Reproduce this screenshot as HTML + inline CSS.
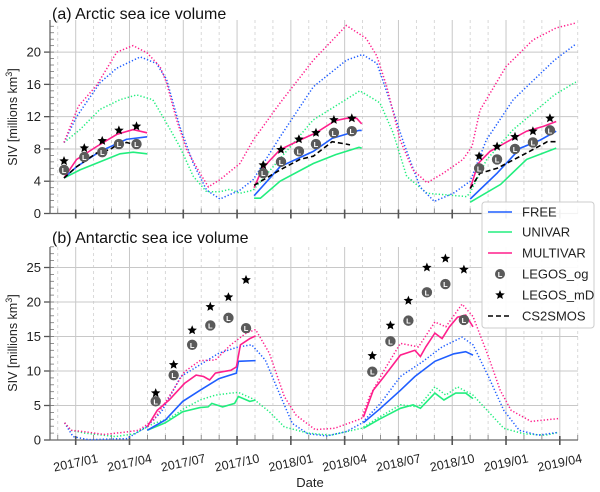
<!DOCTYPE html>
<html><head><meta charset="utf-8">
<style>
html,body{margin:0;padding:0;background:#fff;}
svg{display:block;font-family:"Liberation Sans","DejaVu Sans",sans-serif;}
</style></head>
<body>
<svg id="chart" width="600" height="492" viewBox="0 0 600 492"></svg>
<script>
// ---------- DATA (x in months since 2017-01, y in millions km3) ----------
// Arctic (panel a)
const arcFreeDot = [[-0.65,8.8],[0.05,12],[1.35,16.2],[2.29,18],[3.6,19.4],[4.5,18.6],[5.07,16.6],[5.8,10.8],[6.56,6.2],[7.3,2.9],[8.05,1.8],[9.16,2.9],[9.9,4.2],[11.4,9.5],[13.25,15.7],[15.1,19],[16.0,19.7],[16.8,18.6],[17.5,14.1],[18.3,8.7],[19.2,3.3],[20.0,1.5],[21.06,2.5],[22.0,4.0],[22.9,9.1],[24.4,14.1],[26.7,19],[27.9,21]];
const arcUniDot = [[-0.65,8.8],[0.24,10.4],[1.35,12.9],[2.47,14.1],[3.4,14.7],[4.3,14.1],[5.07,11.2],[5.8,8.3],[6.56,4.6],[7.3,2.7],[8.05,2.7],[8.6,3.0],[9.16,2.5],[9.9,2.9],[11.4,6.8],[13.25,11.6],[15.85,15.2],[16.97,13.7],[17.7,10],[18.46,4.6],[19.6,2.5],[20.7,2.3],[21.8,2.1],[22.0,2.6],[22.9,6.6],[24.4,10.4],[26.7,14.7],[27.9,16.3]];
const arcMultiDot = [[-0.65,8.8],[0.15,13.3],[1.17,15.9],[2.29,20],[3.2,20.8],[3.98,19.9],[4.7,18.2],[5.07,16.2],[5.63,11.6],[6.19,7.9],[6.93,5],[7.4,3.3],[8.05,4.2],[9.16,6.2],[9.9,9.1],[11.4,13.7],[13.25,19],[15.1,23.3],[16.2,21.7],[16.8,19.5],[17.35,15.7],[18.1,9.1],[18.8,5.4],[19.6,3.8],[20.5,5],[21.6,6.7],[22.1,8.3],[22.55,12.8],[24,18.2],[25.5,21.5],[26.8,23],[27.9,23.6]];
const arcFree = [[[-0.65,4.4],[0.05,5.8],[1.35,7.7],[2.84,9.2],[3.98,9.5]],
                 [[9.95,2.2],[11.4,5.8],[13.25,7.7],[14.3,9.3],[15.8,10.3],[15.95,10.3]],
                 [[22.0,1.8],[23.5,5.0],[24.8,8.1],[25.9,9.1],[26.8,10.2]]];
const arcUni = [[[-0.65,4.4],[0.24,5.4],[1.35,6.4],[2.47,7.4],[3.2,7.6],[3.98,7.4]],
                [[9.95,1.9],[10.3,1.9],[11.4,4.0],[13.25,6.2],[14.5,7.3],[15.8,8.2],[15.95,8.1]],
                [[22.0,1.4],[23.7,3.6],[25.15,6.7],[26.8,8.1]]];
const arcMulti = [[[-0.65,4.4],[0.05,6.7],[1.17,8.3],[2.29,9.8],[3.2,10.4],[3.98,10.0]],
                  [[9.95,3.2],[10.4,5.5],[10.8,6.5],[11.4,7.9],[12.5,9.1],[13.4,10],[14.46,11.5],[15.1,11.8],[15.67,11.8],[15.95,11.1]],
                  [[22.0,3.1],[22.45,6.2],[23.1,7.7],[24.4,9.3],[25.15,10.2],[26.1,10.8],[26.8,11.4]]];
const arcCs2 = [[[-0.65,4.4],[0.05,5.8],[1.17,7.5],[1.9,7.9],[2.29,8.5],[2.84,8.8],[3.4,8.5]],
                [[9.95,3.5],[11.4,5.4],[12.5,6.7],[13.25,7.1],[14.3,8.9],[15.1,8.6],[15.3,8.5]],
                [[22.0,3.1],[22.55,5.0],[23.5,5.6],[25.15,7.5],[26.3,8.9],[26.8,8.9]]];
const arcOg = [[-0.65,5.4],[0.48,7.0],[1.48,7.6],[2.41,8.6],[3.39,8.6],[10.46,5.0],[11.45,6.4],[12.45,7.7],[13.4,8.6],[14.4,10],[15.4,10.2],[22.5,5.6],[23.5,6.7],[24.5,8.0],[25.5,8.8],[26.45,10.3]];
const arcMd = [[-0.65,6.5],[0.48,8.1],[1.48,9.0],[2.41,10.3],[3.39,10.8],[10.46,6.0],[11.45,7.9],[12.45,9.2],[13.4,10.0],[14.4,11.6],[15.4,11.8],[22.5,7.1],[23.5,8.3],[24.5,9.5],[25.5,10.2],[26.45,11.8]];
// Antarctic (panel b)
const antFreeDot = [[-0.61,2.5],[-0.15,0.5],[0.7,0.05],[2.82,0.2],[3.9,1.9],[4.73,4.1],[5.8,9.2],[6.85,10.9],[7.9,12.6],[8.97,13.5],[9.7,13.8],[10.45,11.6],[11.3,6.3],[11.94,2.4],[12.8,0.9],[13.85,0.6],[14.9,1.2],[15.75,2.4],[16.8,5.3],[17.9,9.2],[19.15,11.4],[20.2,13.5],[21.3,14.9],[21.9,13.8],[22.75,9.2],[23.6,4.3],[24.45,1.4],[25.5,0.7],[26.6,1.1]];
const antUniDot = [[-0.61,2.5],[-0.25,1.4],[0.49,1.0],[2.18,0.5],[3.24,0.9],[4.3,2.4],[5.15,3.1],[6.0,4.6],[6.85,5.8],[7.7,6.5],[8.55,6.8],[8.97,6.9],[9.82,5.9],[10.67,4.1],[11.5,1.9],[12.8,1.0],[14.06,0.7],[15.75,1.7],[16.8,3.4],[17.9,5.1],[18.9,4.8],[19.8,7.7],[20.4,6.5],[21.05,7.7],[21.9,6.5],[22.75,4.1],[23.6,1.7],[24.7,0.9],[25.9,0.7],[26.6,1.1]];
const antMultiDot = [[-0.61,2.5],[-0.25,1.4],[0.49,1.2],[1.55,0.8],[2.6,1.1],[3.46,1.4],[4.3,2.9],[5.15,6.3],[6.0,9.9],[6.85,11.5],[7.7,11.6],[8.55,13.8],[9.4,15.5],[9.92,16.0],[10.67,12.6],[11.5,6.3],[12.15,3.6],[13.2,1.5],[14.27,1.7],[15.75,3.1],[16.2,6.3],[17.0,10.1],[17.9,14.0],[18.9,13.5],[19.8,17.1],[20.4,16.4],[21.3,19.7],[21.9,17.9],[22.75,12.1],[23.4,7.2],[24.0,4.3],[25.1,2.7],[26.6,3.1]];
const antFree = [[[3.94,1.4],[4.94,2.9],[5.9,5.6],[6.85,7.2],[7.9,8.9],[8.86,9.7],[8.97,11.4],[9.92,11.5]],
                 [[15.86,2.5],[16.8,4.6],[17.9,7.2],[18.7,9.2],[19.8,11.4],[20.85,12.5],[21.5,12.8],[21.9,12.3]]];
const antUni = [[[3.94,1.4],[4.94,2.5],[5.9,4.1],[6.85,4.7],[7.3,4.8],[7.5,5.3],[8.1,4.8],[8.76,5.3],[8.97,6.3],[9.6,5.6],[9.92,5.8]],
                [[15.86,1.7],[16.8,3.1],[17.9,4.6],[18.6,5.1],[19.0,4.6],[19.8,6.8],[20.3,5.8],[20.95,6.8],[21.5,6.8],[21.9,6.0]]];
const antMulti = [[[3.94,1.9],[4.5,4.3],[5.15,5.8],[6.0,8.2],[6.64,9.4],[7.05,9.2],[7.38,8.7],[7.7,9.7],[8.1,9.9],[8.55,10.1],[8.86,10.6],[9.08,13.8],[9.6,14.7],[9.92,15.1]],
                 [[15.86,3.3],[16.4,7.2],[17.0,9.2],[17.9,12.3],[18.7,13.0],[19.0,12.1],[19.3,13.5],[19.8,15.5],[20.2,14.7],[20.6,16.4],[21.05,17.8],[21.5,18.1],[21.9,16.4]]];
const antOg = [[4.41,5.6],[5.4,9.4],[6.42,13.8],[7.42,16.6],[8.42,17.7],[9.39,16.2],[16.35,9.9],[17.35,14.3],[18.34,17.3],[19.36,21.4],[20.38,22.6],[21.4,17.4]];
const antMd = [[4.41,6.8],[5.4,10.9],[6.42,15.9],[7.42,19.3],[8.42,20.7],[9.39,23.2],[16.35,12.2],[17.35,16.6],[18.34,20.2],[19.36,25.0],[20.38,26.3],[21.4,24.7]];
// ticks
const xTickLabels = ["2017/01","2017/04","2017/07","2017/10","2018/01","2018/04","2018/07","2018/10","2019/01","2019/04"];
const arcYTicks = [0,4,8,12,16,20];
const antYTicks = [0,5,10,15,20,25];

// ---------- LAYOUT ----------
const C = {free:"#1f5eff", uni:"#22ee7e", multi:"#ff1f8c"};
const svg = document.getElementById('chart');
const NS = "http://www.w3.org/2000/svg";
function mk(tag, attrs, parent){ const e=document.createElementNS(NS,tag); for(const k in attrs) e.setAttribute(k,attrs[k]); (parent||svg).appendChild(e); return e; }
const L=50, R=578;
const xTick = m => 75.7 + m*17.93;
const panels = [
  {name:"arctic", y0:213.5, ppu:8.07, top:20, ymax:24, yt:arcYTicks, minor:0.8, xd: m=>75.7+m*17.93, ylabY:117, title:"(a) Arctic sea ice volume", titleY:19, labels:false},
  {name:"antarctic", y0:440, ppu:6.9, top:247, ymax:28, yt:antYTicks, minor:1, xd: m=>75.7+m*18.14, ylabY:343, title:"(b) Antarctic sea ice volume", titleY:243, labels:true}
];
function pathFrom(pts, P){ return pts.map((p,i)=>(i?'L':'M')+P.xd(p[0]).toFixed(1)+','+(P.y0-p[1]*P.ppu).toFixed(1)).join(''); }

panels.forEach(P=>{
  const g = mk('g',{});
  
  
  const yv = v => P.y0 - v*P.ppu;
  for(let m=-2; m<=28; m++){
    const x = xTick(m); if(x<L+2||x>R) continue;
    const q = (m%3===0);
    const gl = mk('line',{x1:x,x2:x,y1:P.top,y2:P.y0,stroke:q?"#c8c8c8":"#cfcfcf","stroke-width":q?1:0.8,"stroke-dasharray":q?"":"3 3"},g);
    
    
  }
  P.yt.forEach(v=>{
    const hl = mk('line',{x1:L,x2:R,y1:yv(v),y2:yv(v),stroke:"#c8c8c8","stroke-width":1},g);
    
    
    mk('line',{x1:L-6,x2:L,y1:yv(v),y2:yv(v),stroke:"#555","stroke-width":1.3},g);
    const t = mk('text',{x:L-9,y:yv(v)+4.5,"text-anchor":"end","font-size":13,fill:"#222"},g);
    t.textContent = v;
    
    
  });
  for(let v=0; v<=P.ymax; v+=P.minor){ mk('line',{x1:L,x2:L+4,y1:yv(v),y2:yv(v),stroke:"#777","stroke-width":0.8},g); }
  const ls = mk('line',{x1:L,x2:L,y1:P.top,y2:P.y0,stroke:"#666","stroke-width":1.3},g);
  
  
  const bs = mk('line',{x1:L,x2:R,y1:P.y0,y2:P.y0,stroke:"#666","stroke-width":1.3},g);
  
  
  for(let m=-2; m<=28; m++){
    const x = xTick(m); if(x<L+2||x>R) continue;
    if(m%3===0) mk('line',{x1:x,x2:x,y1:P.y0-4,y2:P.y0+5,stroke:"#555","stroke-width":1.6},g);
    else mk('line',{x1:x,x2:x,y1:P.y0-5,y2:P.y0,stroke:"#777","stroke-width":0.8},g);
  }
  if(P.labels){
    xTickLabels.forEach((s,i)=>{
      const x = xTick(i*3);
      const t = mk('text',{x:x,y:P.y0+27,"text-anchor":"middle","font-size":12.5,fill:"#222",transform:`rotate(-12 ${x} ${P.y0+23})`},g);
      t.textContent = s;
      
      
    });
  }
  const tt = mk('text',{x:52,y:P.titleY,"font-size":16,fill:"#111"},g);
  tt.textContent = P.title;
  
  
  const yl = mk('text',{x:0,y:0,"font-size":12.5,fill:"#222","text-anchor":"middle",transform:`translate(17 ${P.ylabY}) rotate(-90)`},g);
  yl.innerHTML = 'SIV [millions km<tspan dy="-5" font-size="9">3</tspan><tspan dy="5">]</tspan>';
  
  
  P.g = g;
});

function dotted(pts,P,col,name){
  const p = mk('path',{d:pathFrom(pts,P),fill:"none",stroke:col,"stroke-width":1.5,"stroke-dasharray":"1.3 2","stroke-linecap":"butt"},P.g);
  
  
}
function solid(segs,P,col,name,dash){
  segs.forEach(s=>{
    const p = mk('path',{d:pathFrom(s,P),fill:"none",stroke:col,"stroke-width":1.6,"stroke-dasharray":dash||""},P.g);
    
    
  });
}
function starPts(cx,cy,r){ let s=[]; for(let i=0;i<10;i++){ const a=-Math.PI/2+i*Math.PI/5; const rr=i%2?r*0.45:r; s.push((cx+rr*Math.cos(a)).toFixed(1)+','+(cy+rr*Math.sin(a)).toFixed(1)); } return s.join(' '); }
function ogMarkers(pts,P){
  pts.forEach(p=>{
    const cx=P.xd(p[0]), cy=P.y0-p[1]*P.ppu;
    const c = mk('circle',{cx:cx,cy:cy,r:5.2,fill:"#5a5a5a"},P.g);
    
    
    const t = mk('text',{x:cx,y:cy+3,"text-anchor":"middle","font-size":7.5,"font-weight":"bold",fill:"#fff"},P.g);
    t.textContent = "L";
  });
}
function mdMarkers(pts,P){
  pts.forEach(p=>{
    const s = mk('polygon',{points:starPts(P.xd(p[0]),P.y0-p[1]*P.ppu,5),fill:"#000"},P.g);
    
    
  });
}
const A=panels[0], B=panels[1];
dotted(arcUniDot,A,C.uni,'univar-free-run-line'); dotted(arcFreeDot,A,C.free,'free-free-run-line'); dotted(arcMultiDot,A,C.multi,'multivar-free-run-line');
solid(arcUni,A,C.uni,'univar-line'); solid(arcFree,A,C.free,'free-line'); solid(arcMulti,A,C.multi,'multivar-line');
solid(arcCs2,A,"#000",'cs2smos-line',"5 3");
ogMarkers(arcOg,A); mdMarkers(arcMd,A);
dotted(antUniDot,B,C.uni,'univar-free-run-line'); dotted(antFreeDot,B,C.free,'free-free-run-line'); dotted(antMultiDot,B,C.multi,'multivar-free-run-line');
solid(antUni,B,C.uni,'univar-line'); solid(antFree,B,C.free,'free-line'); solid(antMulti,B,C.multi,'multivar-line');
ogMarkers(antOg,B); mdMarkers(antMd,B);

const xt = mk('text',{x:310,y:487,"text-anchor":"middle","font-size":13,fill:"#222"});
xt.textContent = "Date";



const lg = mk('g',{});


mk('rect',{x:482,y:202,width:112,height:126,rx:3,fill:"#fff","fill-opacity":0.92,stroke:"#ccc","stroke-width":1},lg);
const legNames = ["FREE","UNIVAR","MULTIVAR","LEGOS_og","LEGOS_mD","CS2SMOS"];
const legY = [212,232,253,274,295,316];
legNames.forEach((n,i)=>{
  const y = legY[i];
  const e = mk('g',{},lg);
  
  
  if(i<3) mk('line',{x1:488,x2:512,y1:y,y2:y,stroke:[C.free,C.uni,C.multi][i],"stroke-width":1.6},e);
  else if(i===3){ mk('circle',{cx:500,cy:y,r:5,fill:"#5a5a5a"},e); const t=mk('text',{x:500,y:y+3,"text-anchor":"middle","font-size":7.5,"font-weight":"bold",fill:"#fff"},e); t.textContent="L"; }
  else if(i===4) mk('polygon',{points:starPts(500,y,5),fill:"#000"},e);
  else mk('line',{x1:488,x2:512,y1:y,y2:y,stroke:"#000","stroke-width":1.6,"stroke-dasharray":"5 3"},e);
  const t = mk('text',{x:522,y:y+4.5,"font-size":13,fill:"#222"},e);
  t.textContent = n;
});
</script>
</body></html>
